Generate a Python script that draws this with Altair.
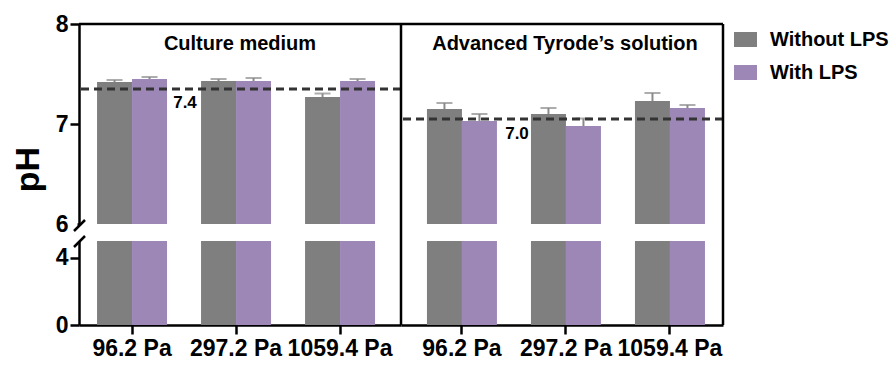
import altair as alt
import pandas as pd

media = ["Culture medium", "Advanced Tyrode’s solution"]
pressures = ["96.2 Pa", "297.2 Pa", "1059.4 Pa"]
groups = ["Without LPS", "With LPS"]

cm_without = [7.42, 7.43, 7.27]
cm_without_err = [0.02, 0.02, 0.035]
cm_with = [7.45, 7.43, 7.43]
cm_with_err = [0.02, 0.03, 0.02]
at_without = [7.15, 7.10, 7.23]
at_without_err = [0.06, 0.06, 0.08]
at_with = [7.03, 6.98, 7.16]
at_with_err = [0.07, 0.075, 0.03]

ref_values = [7.35, 7.05]
ref_labels = ["7.4", "7.0"]

top_ticks = [6, 7, 8]
bottom_ticks = [0, 4]

colors = ["#7f7f7f", "#9c87b7"]
FONT = "Liberation Sans"

rows = []
series = [
    (media[0], groups[0], cm_without, cm_without_err),
    (media[0], groups[1], cm_with, cm_with_err),
    (media[1], groups[0], at_without, at_without_err),
    (media[1], groups[1], at_with, at_with_err),
]
for m, g, vals, errs in series:
    for p, v, e in zip(pressures, vals, errs):
        rows.append({"medium": m, "lps": g, "pressure": p, "value": v, "err": e,
                     "upper": round(v + e, 4)})
df = pd.DataFrame(rows)

PW = 322
TOP_H = 200
BOT_H = 84
GAP = 17


def panel(i, part):
    m = media[i]
    d = df[df.medium == m]
    align = 0.41 if i == 0 else 0.59
    xaxis = None
    if part == "bottom":
        xaxis = alt.Axis(title=None, labelAngle=0, tickSize=9, labelPadding=3,
                         labelFontSize=23)
    x = alt.X("pressure:N", sort=pressures,
              scale=alt.Scale(paddingInner=0.327, paddingOuter=0.2115, align=align),
              axis=xaxis)
    xo = alt.XOffset("lps:N", sort=groups,
                     scale=alt.Scale(paddingInner=0, paddingOuter=0))
    if part == "top":
        yscale = alt.Scale(domain=[6, 8], clamp=True, zero=False, nice=False)
        if i == 0:
            yaxis = alt.Axis(values=top_ticks, labelExpr="'' + datum.value", title="pH",
                             titleFontSize=34, titleX=-51, titleY=145,
                             titleBaseline="middle", tickSize=9, labelPadding=2,
                             grid=False, labelOverlap=False)
        else:
            yaxis = None
        h = TOP_H
    else:
        yscale = alt.Scale(domain=[0, 5], clamp=True, nice=False)
        yaxis = alt.Axis(values=bottom_ticks, labelExpr="'' + datum.value", title=None,
                         tickSize=9, labelPadding=2, grid=False,
                         labelOverlap=False) if i == 0 else None
        h = BOT_H

    def Y(field):
        return alt.Y(field, scale=yscale, axis=yaxis,
                     title="pH" if (i == 0 and part == "top") else None)

    base = alt.Chart(d)
    bars = base.mark_bar().encode(
        x=x, xOffset=xo,
        y=Y("value:Q"),
        color=alt.Color("lps:N", sort=groups,
                        scale=alt.Scale(domain=groups, range=colors),
                        legend=alt.Legend(title=None)),
    )
    layers = [bars]
    one = alt.Chart(pd.DataFrame({"k": [0]}))
    if part == "top":
        layers.append(base.mark_rule(color="#8a8a8a", strokeWidth=2).encode(
            x=x, xOffset=xo, y=Y("value:Q"), y2="upper:Q"))
        layers.append(base.mark_tick(color="#8a8a8a", thickness=2, size=16).encode(
            x=x, xOffset=xo, y=Y("upper:Q")))
        ref = alt.Chart(pd.DataFrame({"value": [ref_values[i]], "label": [ref_labels[i]]}))
        layers.append(ref.mark_rule(color="#333333", strokeWidth=3, strokeDash=[8, 5]).encode(
            y=Y("value:Q")))
        layers.append(ref.mark_text(font=FONT, fontSize=17, fontWeight="bold",
                                    color="black", dy=14 if i == 0 else 15).encode(
            y=Y("value:Q"), x=alt.value(106 if i == 0 else 116), text="label:N"))
        tt = alt.Chart(pd.DataFrame({"t": [m]}))
        layers.append(tt.mark_text(font=FONT, fontSize=20, fontWeight="bold",
                                   color="black").encode(
            x=alt.value(161 if i == 0 else 164), y=alt.value(20), text="t:N"))
        layers.append(one.mark_rule(color="black", strokeWidth=2.5).encode(y=alt.value(0)))
        if i == 1:
            layers.append(one.mark_rule(color="black", strokeWidth=2.5).encode(x=alt.value(0)))
            layers.append(one.mark_rule(color="black", strokeWidth=2.5).encode(x=alt.value(PW)))
        else:
            # cover the tick at 6 where the axis break is drawn
            layers.append(one.mark_rule(color="white", strokeWidth=4).encode(
                x=alt.value(-10), x2=alt.value(-1.5), y=alt.value(TOP_H), y2=alt.value(TOP_H)))
            layers.append(one.mark_rule(color="black", strokeWidth=2.5).encode(
                x=alt.value(-5), y=alt.value(207), x2=alt.value(6), y2=alt.value(196)))
    else:
        if i == 1:
            for xv in [0, PW]:
                layers.append(one.mark_rule(color="black", strokeWidth=2.5).encode(
                    x=alt.value(xv), y=alt.value(-GAP), y2=alt.value(BOT_H)))
        else:
            layers.append(one.mark_rule(color="black", strokeWidth=2.5).encode(
                x=alt.value(-5), y=alt.value(6), x2=alt.value(6), y2=alt.value(-5)))
    return alt.layer(*layers).properties(width=PW, height=h)


chart = alt.concat(
    panel(0, "top"), panel(1, "top"), panel(0, "bottom"), panel(1, "bottom"),
    columns=2, spacing={"row": GAP, "column": 0}, bounds="flush",
).properties(
    padding={"left": 11, "top": 13, "right": 0, "bottom": 5}
).configure_view(stroke=None).configure_axis(
    domainColor="black", domainWidth=2.5, tickColor="black", tickWidth=2.5,
    labelFont=FONT, labelFontWeight="bold", labelFontSize=23, labelColor="black",
    titleFont=FONT, titleFontWeight="bold", titleColor="black",
).configure_legend(
    orient="right", labelFont=FONT, labelFontSize=20, labelFontWeight="bold",
    labelColor="black", symbolType="M-1,-0.65H1V0.65H-1Z", symbolSize=529,
    symbolStrokeWidth=0, symbolOpacity=1, labelOffset=13, rowPadding=11,
    offset=5, padding=4,
)

chart.save("out.html", embed_options={"renderer": "svg", "actions": False})
